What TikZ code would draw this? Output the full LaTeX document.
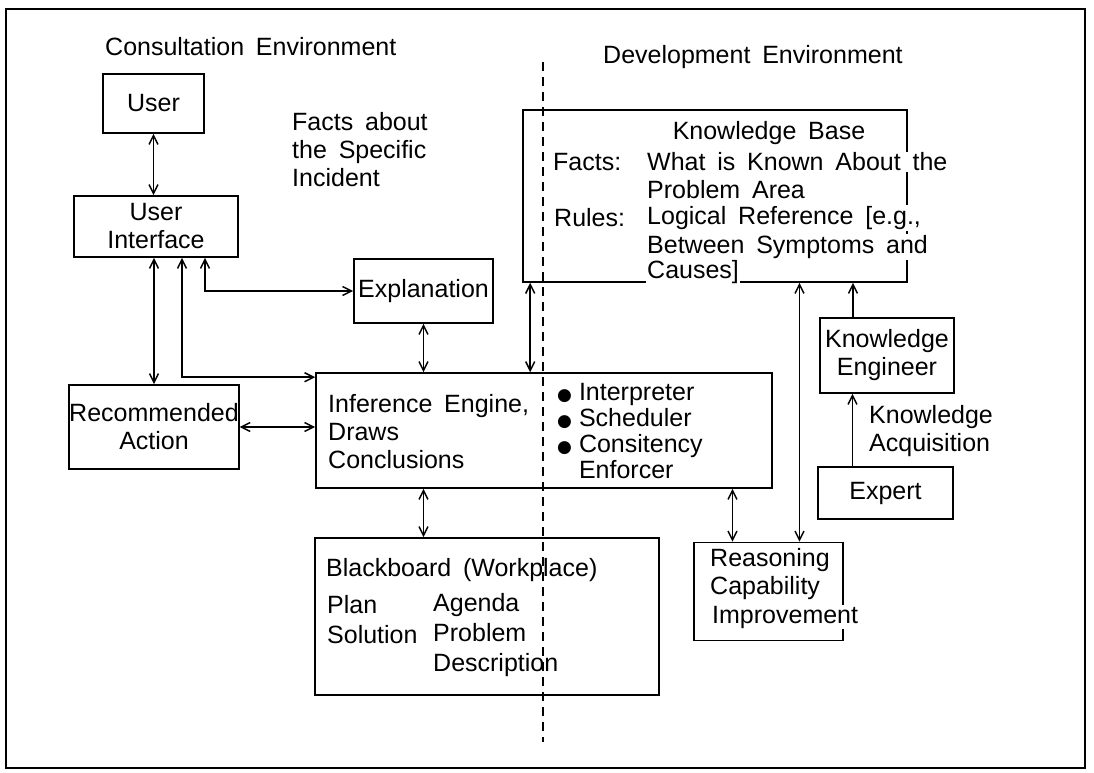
\documentclass[tikz,border=0pt]{standalone}
\usepackage{fontspec}
\setmainfont[WordSpace=1.7]{Liberation Sans}
\newfontfamily\dotfont{DejaVu Sans}
\usetikzlibrary{arrows.meta}
\newcommand{\blt}{{\dotfont\fontsize{17}{17}\selectfont ●}}

\begin{document}
\begin{tikzpicture}[x=1pt,y=-1pt,
        font=\fontsize{25}{28}\selectfont,
        >={Straight Barb[length=9pt,width=9pt]},
        box/.style={draw,line width=1.6pt,inner sep=0pt,align=center},
        txt/.style={inner sep=0pt,align=left,anchor=west},
        cut/.style={txt,fill=white,inner sep=1pt},
        link/.style={<->,line width=1.5pt}]
    \useasboundingbox (0,0) rectangle (1094,773);
    \draw[line width=1.6pt] (6,9) rectangle (1085,768);
    \coordinate (septop) at (543,62);
    \coordinate (sepbot) at (543,742);
    \draw[line width=1.3pt,dash pattern=on 9pt off 6pt] (septop) -- (sepbot);

    \node[txt] (consult) at (105,47) {Consultation Environment};
    \node[txt] (develop) at (603,57) {Development Environment};
    \node[txt] (facts) at (292,150) {Facts about\\the Specific\\Incident};

    \node[box,minimum width=101pt,minimum height=59pt] (user) at (153.5,103.5) {User};
    \node[box,minimum width=164pt,minimum height=61pt] (ui) at (156,226.5) {User\\Interface};
    \node[box,minimum width=139pt,minimum height=64pt] (expl) at (423.5,291) {Explanation};
    \node[box,minimum width=162pt,minimum height=84pt] (rec) at (154,427) {Recommended\\Action};

    \node[box,minimum width=456pt,minimum height=115pt] (inf) at (544,430.5) {};
    \node[txt] (infl) at (328,432) {Inference Engine,\\Draws\\Conclusions};
    \node[txt] (infr) at (557,434) {\renewcommand{\arraystretch}{0.93}%
        \begin{tabular}{@{}l@{\hspace{7pt}}l@{}}
            \blt & Interpreter\\ \blt & Scheduler\\ \blt & Consitency\\ & Enforcer
        \end{tabular}};

    \node[box,minimum width=384pt,minimum height=172pt] (kb) at (715,196) {};
    \node[inner sep=0pt] (kbtitle) at (769,133) {Knowledge Base};
    \node[txt] (kbfacts) at (553,162) {Facts:};
    \node[txt] (kbrules) at (554,218) {Rules:};
    \node[cut] (kbf1) at (646,162) {What is Known About the};
    \node[cut] (kbf2) at (646,190) {Problem Area};
    \node[cut] (kbr1) at (646,218) {Logical Reference [e.g.,};
    \node[cut] (kbr2) at (646,247) {Between Symptoms and};
    \node[cut] (kbr3) at (646,272) {Causes]};

    \node[box,minimum width=134pt,minimum height=75pt] (ke) at (887,355.5) {Knowledge\\Engineer};
    \node[txt] (acq) at (869,431) {Knowledge\\Acquisition};
    \node[box,minimum width=135pt,minimum height=52pt] (expert) at (885.5,493) {Expert};

    \node[box,minimum width=344pt,minimum height=157pt] (bb) at (487,616.5) {};
    \node[txt] (bbtitle) at (326,570) {Blackboard (Workplace)};
    \node[txt] (bbleft) at (327,620) {Plan\\[2pt]Solution};
    \node[txt] (bbright) at (433,635) {Agenda\\[2pt]Problem\\[2pt]Description};

    \node[box,minimum width=149pt,minimum height=98pt] (reas) at (768.5,591.5) {};
    \node[txt] (reastxt) at (710,574) {Reasoning\\Capability};
    \node[cut] (reasimp) at (711,617) {Improvement};

    \coordinate (kbin) at ([xshift=8pt]kb.south west);
    \coordinate (reasin) at ([xshift=-36pt]reas.north);
    \coordinate (reasup) at ([xshift=31pt]reas.north);
    \coordinate (keup) at ([xshift=-34pt]ke.north);
    \coordinate (acqup) at ([xshift=-33pt]expert.north);

    \draw[link] (user.south) -- (user.south |- ui.north);
    \draw[link] (ui.south -| rec.north) -- (rec.north);
    \draw[link] ([xshift=49pt]ui.south) |- (expl.west);
    \draw[link] ([xshift=26pt]ui.south) |- ([yshift=-5pt]inf.north west);
    \draw[link] (expl.south) -- (expl.south |- inf.north);
    \draw[link] (kbin) -- (kbin |- inf.north);
    \draw[link] (rec.east) -- (rec.east -| inf.west);
    \draw[link] (inf.south -| expl.south) -- (bb.north -| expl.south);
    \draw[link] (reasin |- inf.south) -- (reasin);
    \draw[link] (reasup |- kb.south) -- (reasup);
    \draw[link,<-] (keup |- kb.south) -- (keup);
    \draw[link,<-] (acqup |- ke.south) -- (acqup);
\end{tikzpicture}
\end{document}
